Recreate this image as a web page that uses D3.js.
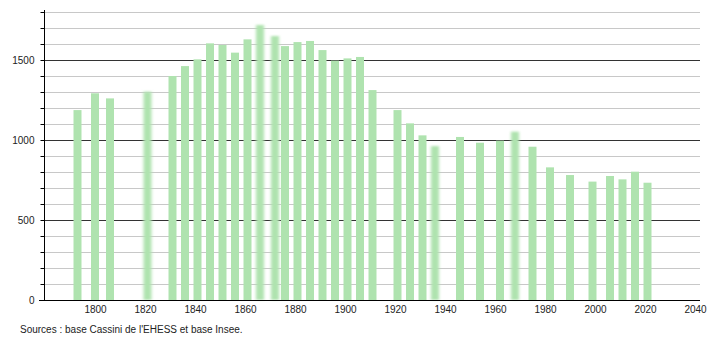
<!DOCTYPE html>
<html>
<head>
<meta charset="utf-8">
<script src="https://cdn.jsdelivr.net/npm/d3@7"></script>
<style>
  body { margin: 0; background: #fff; }
  text { font-family: "Liberation Sans", Arial, sans-serif; }
</style>
</head>
<body>
<svg width="710" height="340"></svg>
<script>
// census years and population
const years = [1793, 1800, 1806, 1821, 1831, 1836, 1841, 1846, 1851, 1856, 1861, 1866,
  1872, 1876, 1881, 1886, 1891, 1896, 1901, 1906, 1911, 1921, 1926, 1931, 1936,
  1946, 1954, 1962, 1968, 1975, 1982, 1990, 1999, 2006, 2011, 2016, 2021];
const population = [1187, 1292, 1260, 1302, 1400, 1462, 1504, 1604, 1594, 1546, 1629, 1719,
  1650, 1587, 1612, 1619, 1562, 1496, 1510, 1519, 1312, 1187, 1104, 1029, 962,
  1019, 983, 996, 1052, 958, 829, 781, 740, 775, 754, 802, 733];
// bars drawn blurred in the reference
const blurred = [1821, 1866, 1872, 1936, 1968];
const xTicks = [1800, 1820, 1840, 1860, 1880, 1900, 1920, 1940, 1960, 1980, 2000, 2020, 2040];
const yTicks = [0, 500, 1000, 1500];

const svg = d3.select("svg");

const x = d3.scaleLinear().domain([1780, 2042]).range([45, 700]);
const y = d3.scaleLinear().domain([0, 1800]).range([300, 12]);

const defs = svg.append("defs");
defs.append("filter")
    .attr("id", "blur")
    .attr("x", "-50%").attr("width", "200%")
    .attr("y", "-5%").attr("height", "110%")
    .append("feGaussianBlur")
    .attr("stdDeviation", "1.6 1.2");

// grid lines every 100, darker every 500
const grid = svg.append("g");
grid.selectAll("line")
    .data(d3.range(100, 1801, 100))
    .enter().append("line")
    .attr("x1", 44)
    .attr("x2", 700)
    .attr("y1", d => Math.round(y(d)) + 0.5)
    .attr("y2", d => Math.round(y(d)) + 0.5)
    .attr("stroke", d => d % 500 === 0 ? "#333" : "#c8c8c8")
    .attr("stroke-width", 1);

// bars
const data = years.map((yr, i) => ({ year: yr, value: population[i] }));
svg.append("g")
    .selectAll("rect")
    .data(data)
    .enter().append("rect")
    .attr("x", d => x(d.year) - 4)
    .attr("width", 8)
    .attr("y", d => y(d.value))
    .attr("height", d => y(0) - y(d.value))
    .attr("fill", "#afe3af")
    .attr("filter", d => blurred.includes(d.year) ? "url(#blur)" : null);

// y axis
const yAxis = d3.axisLeft(y)
    .tickValues(d3.range(0, 1801, 100))
    .tickSize(4)
    .tickFormat(d => yTicks.includes(d) ? d : "");
const gy = svg.append("g")
    .attr("transform", "translate(44.5,0)")
    .call(yAxis);
gy.select(".domain").attr("d", "M0,10V300.5");
gy.selectAll(".tick line").attr("stroke", "#000");
gy.selectAll(".tick text")
    .attr("x", -10)
    .attr("font-size", 10)
    .attr("fill", "#222");

// x axis
const xAxis = d3.axisBottom(x)
    .tickValues(xTicks)
    .tickSize(0)
    .tickPadding(5)
    .tickFormat(d3.format("d"));
const gx = svg.append("g")
    .attr("transform", "translate(0,300.5)")
    .call(xAxis);
gx.select(".domain").attr("d", "M39,0H700");
gx.selectAll(".tick text")
    .attr("font-size", 10)
    .attr("fill", "#222");

svg.append("text")
    .attr("x", 20)
    .attr("y", 333)
    .attr("font-size", 10)
    .attr("fill", "#222")
    .text("Sources : base Cassini de l'EHESS et base Insee.");
</script>
</body>
</html>
